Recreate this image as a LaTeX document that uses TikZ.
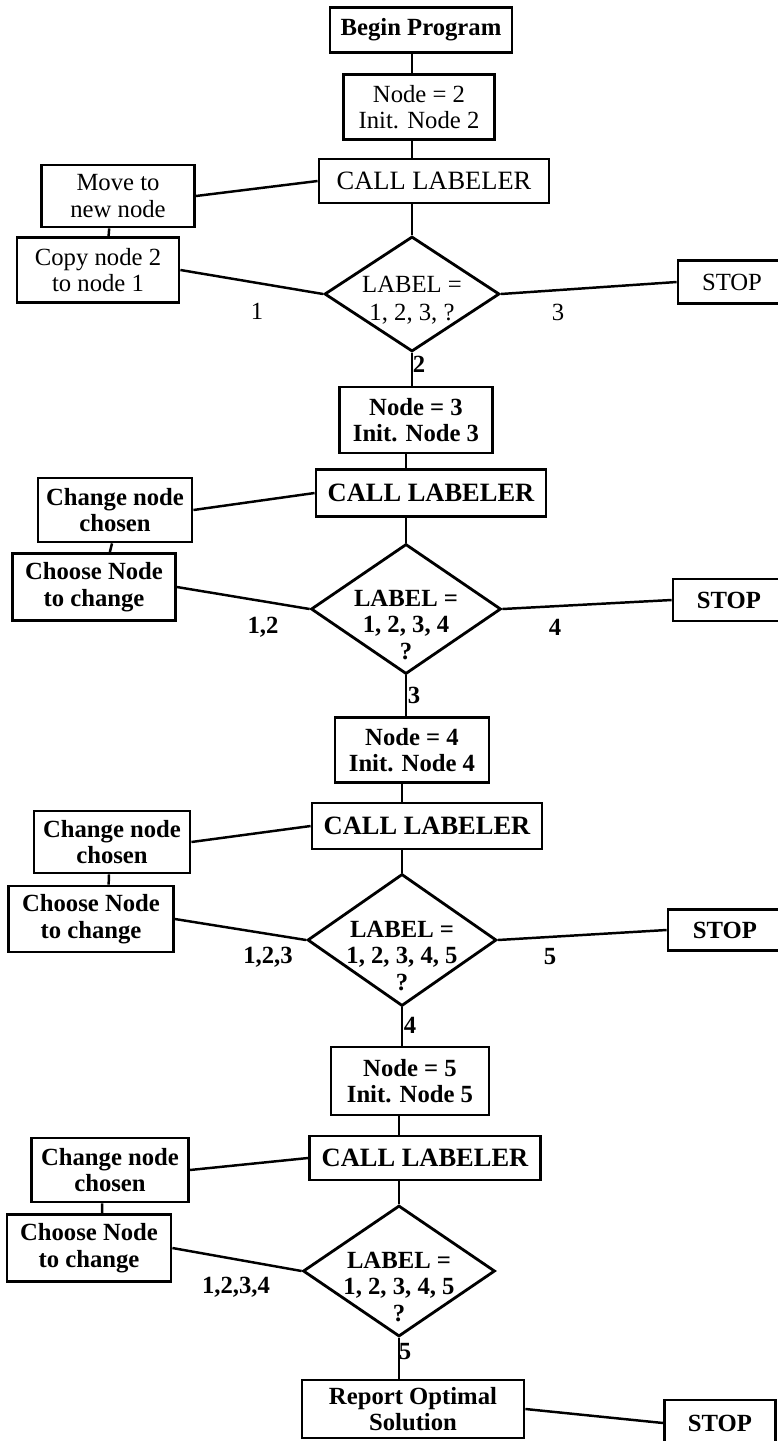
\documentclass[tikz,border=0pt]{standalone}
\usepackage{fontspec}
\setmainfont{Liberation Serif}
\usetikzlibrary{shapes.geometric}
\newdimen\unitpx \unitpx=0.567pt
\begin{document}
\begin{tikzpicture}[x=0.567pt,y=-0.567pt,
  box/.style={draw,line width=1.6pt,inner sep=0pt,align=center,font=\fontsize{14}{15}\selectfont},
  bbox/.style={box,font=\fontsize{14}{15}\selectfont\bfseries},
  callbox/.style={box,font=\fontsize{15}{16}\selectfont},
  decision/.style={draw,diamond,line width=1.6pt,inner sep=0pt},
  link/.style={line width=1.4pt},
  num/.style={font=\fontsize{14}{15}\selectfont},
  bnum/.style={font=\fontsize{14}{15}\selectfont\bfseries}]
\useasboundingbox (0,0) rectangle (778,1441);
\clip (0,0) rectangle (778,1441);
\node[bbox,minimum width=182\unitpx,minimum height=45\unitpx] (begin) at (421,30) {Begin Program};
\node[box,minimum width=151\unitpx,minimum height=65\unitpx] (setA) at (419,107) {Node = 2\\Init. Node 2};
\node[callbox,minimum width=230\unitpx,minimum height=44\unitpx] (callA) at (434,181) {CALL LABELER};
\node[box,minimum width=153\unitpx,minimum height=62\unitpx] (moveA) at (118,196) {Move to\\new node};
\node[box,minimum width=162\unitpx,minimum height=65\unitpx] (copyA) at (98,270) {Copy node 2\\to node 1};
\node[decision,minimum width=175\unitpx,minimum height=115\unitpx,
  label={[align=center,yshift=-3.4pt,font=\fontsize{14}{16}\selectfont]center:{LABEL =\\1, 2, 3, ?}}] (labelA) at (412,294) {};
\node[box,minimum width=108\unitpx,minimum height=43\unitpx] (stopA) at (732,282) {STOP};
\node[num] (nA1) at (257,311) {1};
\node[num] (nA3) at (558,312) {3};
\node[bnum] (nA2) at (419,364) {2};

\node[bbox,minimum width=153\unitpx,minimum height=66\unitpx] (setB) at (416,420) {Node = 3\\Init. Node 3};
\node[callbox,font=\fontsize{15}{16}\selectfont\bfseries,minimum width=230\unitpx,minimum height=47\unitpx] (callB) at (431,493) {CALL LABELER};
\node[bbox,minimum width=154\unitpx,minimum height=64\unitpx] (changeB) at (115,510) {Change node\\chosen};
\node[bbox,minimum width=163\unitpx,minimum height=67\unitpx] (chooseB) at (94,587) {Choose Node\\to change};
\node[decision,minimum width=190\unitpx,minimum height=130\unitpx,
  label={[align=center,yshift=-9pt,font=\fontsize{14}{15}\selectfont\bfseries]center:{LABEL =\\1, 2, 3, 4\\?}}] (labelB) at (406,609) {};
\node[bbox,minimum width=112\unitpx,minimum height=42\unitpx] (stopB) at (729,600) {STOP};
\node[bnum] (nB1) at (263,627) {1,2};
\node[bnum] (nB4) at (555,627) {4};
\node[bnum] (nB3) at (414,695) {3};

\node[bbox,minimum width=154\unitpx,minimum height=65\unitpx] (setC) at (412,750) {Node = 4\\Init. Node 4};
\node[callbox,font=\fontsize{15}{16}\selectfont\bfseries,minimum width=230\unitpx,minimum height=46\unitpx] (callC) at (427,826) {CALL LABELER};
\node[bbox,minimum width=156\unitpx,minimum height=62\unitpx] (changeC) at (112,842) {Change node\\chosen};
\node[bbox,minimum width=165\unitpx,minimum height=66\unitpx] (chooseC) at (91,919) {Choose Node\\to change};
\node[decision,minimum width=189\unitpx,minimum height=132\unitpx,
  label={[align=center,yshift=-9pt,font=\fontsize{14}{15}\selectfont\bfseries]center:{LABEL =\\1, 2, 3, 4, 5\\?}}] (labelC) at (402,940) {};
\node[bbox,minimum width=114\unitpx,minimum height=41\unitpx] (stopC) at (725,930) {STOP};
\node[bnum] (nC1) at (268,957) {1,2,3};
\node[bnum] (nC5) at (550,957) {5};
\node[bnum] (nC4) at (410,1025) {4};

\node[bbox,minimum width=158\unitpx,minimum height=68\unitpx] (setD) at (410,1081) {Node = 5\\Init. Node 5};
\node[callbox,font=\fontsize{15}{16}\selectfont\bfseries,minimum width=231\unitpx,minimum height=44\unitpx] (callD) at (425,1158) {CALL LABELER};
\node[bbox,minimum width=157\unitpx,minimum height=64\unitpx] (changeD) at (110,1170) {Change node\\chosen};
\node[bbox,minimum width=164\unitpx,minimum height=67\unitpx] (chooseD) at (89,1248) {Choose Node\\to change};
\node[decision,minimum width=192\unitpx,minimum height=131\unitpx,
  label={[align=center,yshift=-9pt,font=\fontsize{14}{15}\selectfont\bfseries]center:{LABEL =\\1, 2, 3, 4, 5\\?}}] (labelD) at (399,1271) {};
\node[bnum] (nD1) at (236,1287) {1,2,3,4};
\node[bnum] (nD5) at (405,1352) {5};
\node[bbox,minimum width=222\unitpx,minimum height=58\unitpx] (report) at (413,1409) {Report Optimal\\Solution};
\node[bbox,minimum width=111\unitpx,minimum height=46\unitpx] (stopE) at (720,1423) {STOP};

\draw[link] (begin.south -| labelA) -- (setA.north -| labelA);
\draw[link] (setA.south -| labelA) -- (callA.north -| labelA);
\draw[link] (callA.south -| labelA) -- (labelA.north);
\draw[link] (callA.west) -- (moveA.east);
\draw[link] ([xshift=-5pt]moveA.south) -- ([xshift=6pt]copyA.north);
\draw[link] (copyA.east) -- (labelA.west);
\draw[link] (labelA.east) -- (stopA.west);
\draw[link] (labelA.south) -- (labelA.south |- setB.north);

\draw[link] (setB.south -| labelB) -- (callB.north -| labelB);
\draw[link] (callB.south -| labelB) -- (labelB.north);
\draw[link] (callB.west) -- (changeB.east);
\draw[link] ([xshift=-1.7pt]changeB.south) -- ([xshift=9pt]chooseB.north);
\draw[link] (chooseB.east) -- (labelB.west);
\draw[link] (labelB.east) -- (stopB.west);
\draw[link] (labelB.south) -- (labelB.south |- setC.north);

\draw[link] (setC.south -| labelC) -- (callC.north -| labelC);
\draw[link] (callC.south -| labelC) -- (labelC.north);
\draw[link] (callC.west) -- (changeC.east);
\draw[link] ([xshift=-1.7pt]changeC.south) -- ([xshift=10pt]chooseC.north);
\draw[link] (chooseC.east) -- (labelC.west);
\draw[link] (labelC.east) -- (stopC.west);
\draw[link] (labelC.south) -- (labelC.south |- setD.north);

\draw[link] (setD.south -| labelD) -- (callD.north -| labelD);
\draw[link] (callD.south -| labelD) -- (labelD.north);
\draw[link] (callD.west) -- (changeD.east);
\draw[link] ([xshift=-4.5pt]changeD.south) -- ([xshift=7.4pt]chooseD.north);
\draw[link] (chooseD.east) -- (labelD.west);
\draw[link] (labelD.south) -- (labelD.south |- report.north);
\draw[link] (report.east) -- (stopE.west);
\end{tikzpicture}
\end{document}
